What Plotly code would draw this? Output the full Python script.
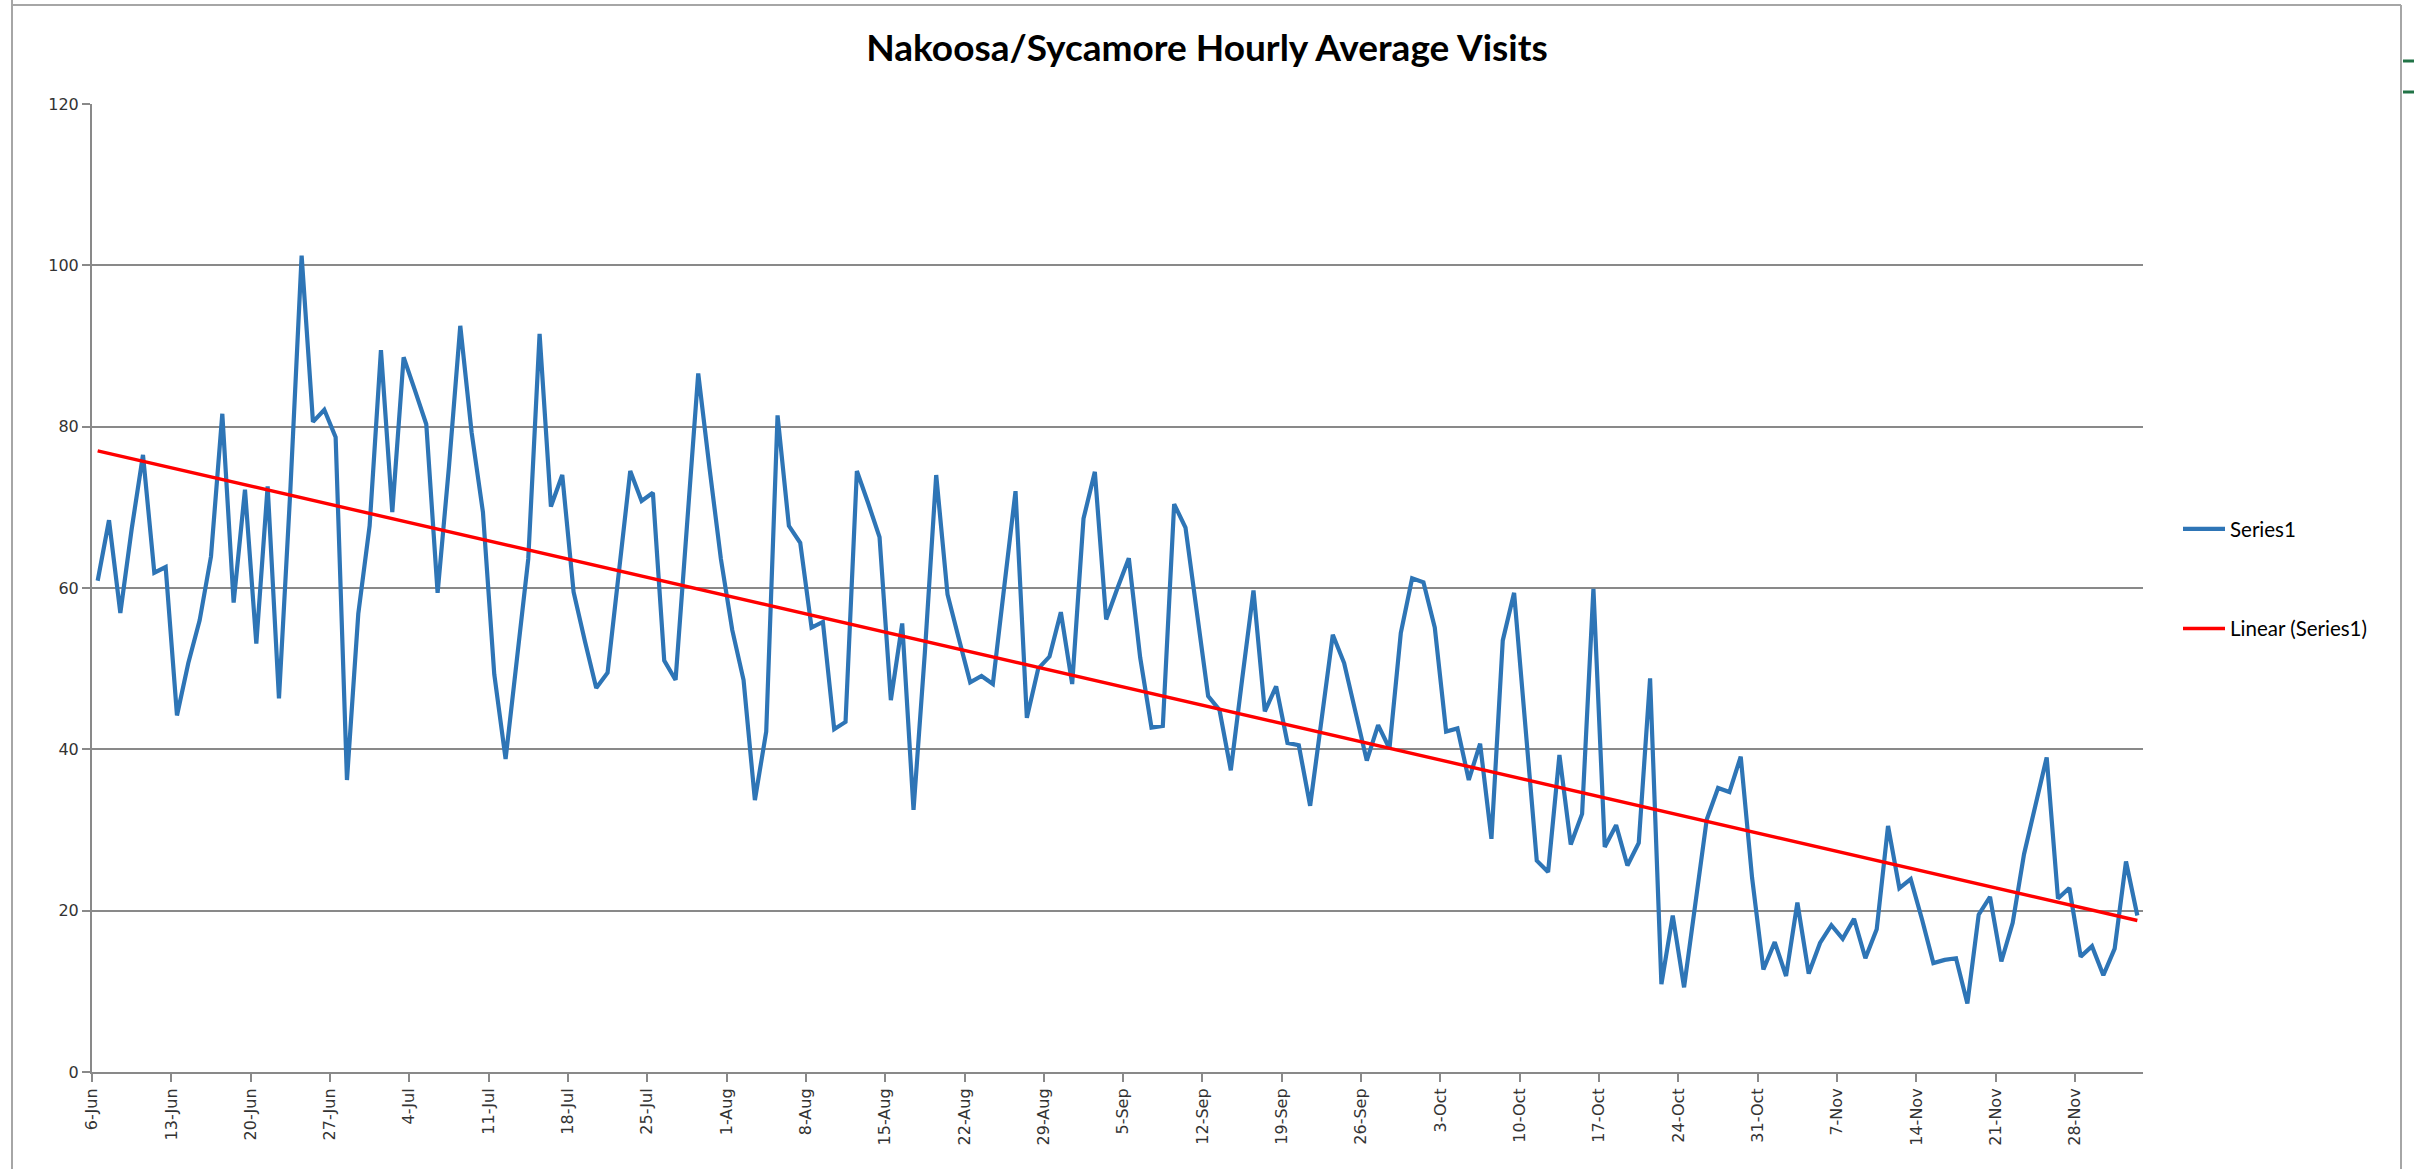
import numpy as np
import pandas as pd
import plotly.graph_objects as go

# daily hourly-average visits, 6-Jun .. 3-Dec
start_date = "2013-06-06"
visits = [
    60.9, 68.4, 56.9, 67.3, 76.5, 61.9, 62.6, 44.2, 50.7, 56.0,
    63.9, 81.6, 58.2, 72.2, 53.1, 72.6, 46.3, 72.0, 101.2, 80.6,
    82.1, 78.7, 36.2, 56.8, 67.7, 89.5, 69.4, 88.6, 84.5, 80.3,
    59.4, 75.0, 92.5, 79.3, 69.4, 49.3, 38.8, 51.2, 63.6, 91.5,
    70.1, 74.0, 59.5, 53.4, 47.6, 49.5, 62.0, 74.5, 70.8, 71.8,
    51.0, 48.6, 67.6, 86.6, 74.8, 63.6, 54.8, 48.6, 33.7, 42.2,
    81.4, 67.7, 65.6, 55.1, 55.8, 42.5, 43.4, 74.5, 70.5, 66.3,
    46.1, 55.6, 32.5, 52.0, 74.0, 59.2, 53.7, 48.3, 49.1, 48.1,
    60.1, 72.0, 43.9, 50.0, 51.5, 57.0, 48.1, 68.6, 74.4, 56.1,
    60.0, 63.7, 51.4, 42.7, 42.9, 70.4, 67.5, 57.1, 46.6, 44.9,
    37.4, 48.7, 59.7, 44.7, 47.8, 40.8, 40.5, 33.0, 43.3, 54.2,
    50.7, 44.5, 38.6, 43.0, 40.1, 54.4, 61.2, 60.7, 55.1, 42.2,
    42.6, 36.2, 40.7, 28.9, 53.5, 59.4, 42.8, 26.2, 24.8, 39.3,
    28.2, 32.0, 59.9, 27.9, 30.6, 25.6, 28.4, 48.8, 10.9, 19.4,
    10.5, 20.5, 31.3, 35.2, 34.7, 39.1, 24.1, 12.7, 16.1, 11.9,
    21.0, 12.2, 16.0, 18.2, 16.5, 19.0, 14.1, 17.7, 30.5, 22.8,
    23.9, 18.9, 13.5, 13.9, 14.1, 8.5, 19.5, 21.7, 13.7, 18.5,
    27.0, 33.0, 39.0, 21.5, 22.8, 14.3, 15.6, 12.0, 15.3, 26.1,
    19.4,
]
tick_labels = [
    "6-Jun", "13-Jun", "20-Jun", "27-Jun", "4-Jul", "11-Jul", "18-Jul",
    "25-Jul", "1-Aug", "8-Aug", "15-Aug", "22-Aug", "29-Aug", "5-Sep",
    "12-Sep", "19-Sep", "26-Sep", "3-Oct", "10-Oct", "17-Oct", "24-Oct",
    "31-Oct", "7-Nov", "14-Nov", "21-Nov", "28-Nov",
]

dates = pd.date_range(start_date, periods=len(visits), freq="D")
tick_dates = dates[::7][:len(tick_labels)]
# excel puts each day's point in the middle of its slot
x_pts = dates + pd.Timedelta(hours=12)

# linear trendline (least squares, like excel)
idx = np.arange(len(visits))
slope, icpt = np.polyfit(idx, visits, 1)
trend = slope * idx + icpt

W, H = 2414, 1169
L, R, T, B = 92, 271, 104, 97
def px(x): return (x - L) / (W - L - R)
def py(y): return 1 - (y - T) / (H - T - B)

AXIS_GREY = "#898989"
label_font = dict(family="DejaVu Sans", size=16, color="#333333")

fig = go.Figure()
fig.add_trace(go.Scatter(
    x=x_pts, y=visits, mode="lines", name="Series1", legendgroup="a",
    line=dict(color="#2E75B6", width=4.2),
))
fig.add_trace(go.Scatter(
    x=x_pts, y=trend, mode="lines", name="Linear (Series1)", legendgroup="b",
    line=dict(color="#FF0000", width=3.4),
))

# frame lines of the screenshot
frame = [
    dict(x0=px(12), x1=px(12), y0=py(0), y1=py(H)),
    dict(x0=px(12), x1=px(2401), y0=py(5), y1=py(5)),
    dict(x0=px(2401), x1=px(2401), y0=py(5), y1=py(H)),
]
shapes = [dict(type="line", xref="paper", yref="paper", line=dict(color="#A6A6A6", width=2), **f) for f in frame]
for gy in (61, 92):
    shapes.append(dict(type="line", xref="paper", yref="paper", x0=px(2403), x1=px(W), y0=py(gy), y1=py(gy),
                       line=dict(color="#217346", width=3)))

fig.update_layout(
    width=W, height=H, margin=dict(l=L, r=R, t=T, b=B),
    paper_bgcolor="white", plot_bgcolor="white",
    title=dict(text="<b>Nakoosa/Sycamore Hourly Average Visits</b>",
               xref="container", yref="container", x=1207 / W, xanchor="center",
               y=1 - 48 / H, yanchor="middle", font=dict(family="Lato", size=37, color="#000000")),
    showlegend=True,
    legend=dict(x=px(2178), y=py(509), xanchor="left", yanchor="top", tracegroupgap=70,
                itemwidth=42,
                font=dict(family="Lato", size=20.5, color="#000000"), bgcolor="rgba(0,0,0,0)"),
    shapes=shapes,
)
fig.update_xaxes(
    type="date", range=[dates[0], dates[-1] + pd.Timedelta(days=1)],
    tickmode="array", tickvals=tick_dates, ticktext=tick_labels, tickangle=-90,
    ticks="outside", ticklen=8, tickcolor=AXIS_GREY, tickwidth=1.5,
    showline=True, linecolor=AXIS_GREY, linewidth=2, showgrid=False,
    tickfont=label_font,
)
fig.update_yaxes(
    range=[0, 120], dtick=20, tick0=0,
    ticks="outside", ticklen=8, tickcolor=AXIS_GREY, tickwidth=1.5,
    showline=True, linecolor=AXIS_GREY, linewidth=2,
    showgrid=True, gridcolor=AXIS_GREY, gridwidth=1.5, zeroline=False,
    tickfont=label_font,
)

# drop the browser's default 8px body margin so the figure sits at the page corner
fig.write_html("out.html", config={"displayModeBar": False},
               post_script="document.body.style.margin='0';")
